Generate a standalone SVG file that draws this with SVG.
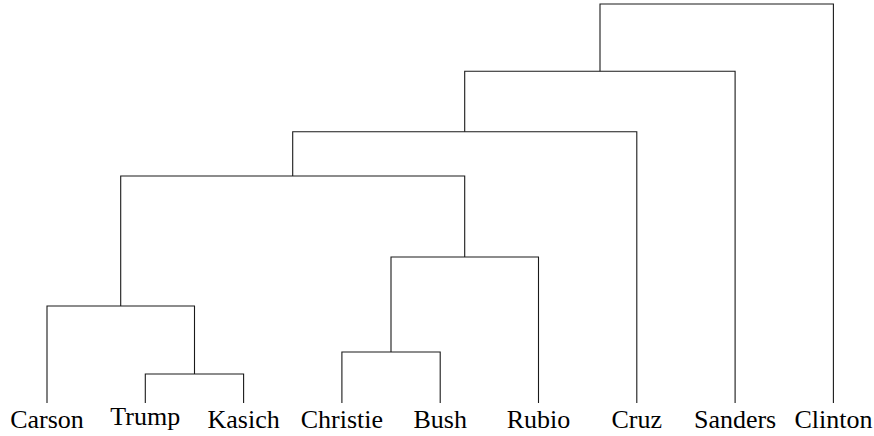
<svg xmlns="http://www.w3.org/2000/svg" width="874" height="436" viewBox="0 0 874 436">
<style>
.l{fill:none;stroke:#1a1a1a;stroke-width:1.1}
</style>
<rect width="874" height="436" fill="#fff"/>
<g id="connectors">
<path class="l" d="M145.3,403V374H243.6V403"/>
<path class="l" d="M47,403V306H194.5V374"/>
<path class="l" d="M341.9,403V352H440.2V403"/>
<path class="l" d="M391,352V257H538.5V403"/>
<path class="l" d="M120.7,306V176H464.7V257"/>
<path class="l" d="M292.7,176V131.7H636.8V403"/>
<path class="l" d="M464.7,131.7V71.3H735.1V403"/>
<path class="l" d="M600,71.3V4H833.4V403"/>
</g>
<g font-family="Liberation Serif, DejaVu Serif, serif" font-size="26" fill="#000" text-anchor="middle">
<g id="carson"><text x="47" y="428">Carson</text></g>
<g id="trump"><text x="145.3" y="425">Trump</text></g>
<g id="kasich"><text x="243.6" y="428">Kasich</text></g>
<g id="christie"><text x="341.9" y="428">Christie</text></g>
<g id="bush"><text x="440.2" y="428">Bush</text></g>
<g id="rubio"><text x="538.5" y="428">Rubio</text></g>
<g id="cruz"><text x="636.8" y="428">Cruz</text></g>
<g id="sanders"><text x="735.1" y="428">Sanders</text></g>
<g id="clinton"><text x="833.4" y="428">Clinton</text></g>
</g>
</svg>
